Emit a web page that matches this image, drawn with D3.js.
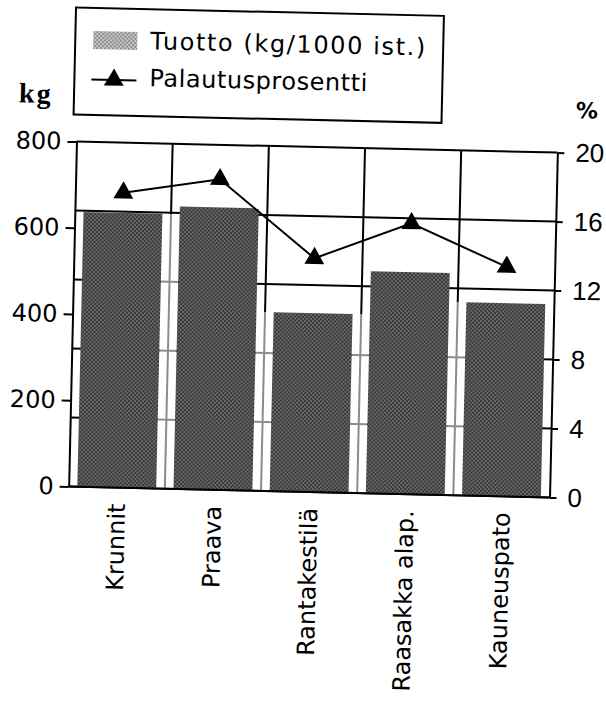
<!DOCTYPE html>
<html>
<head>
<meta charset="utf-8">
<script src="https://cdn.jsdelivr.net/npm/d3@7"></script>
<style>
  html, body { margin: 0; padding: 0; background: #fff; }
  svg { display: block; }
</style>
</head>
<body>
<svg id="chart" width="606" height="701"></svg>
<script>
// ---- data ----
const categories = ["Krunnit", "Praava", "Rantakestilä", "Raasakka alap.", "Kauneuspato"];
const yieldKg = [637, 655, 415, 515, 448];          // Tuotto (kg/1000 ist.)
const returnPct = [17.1, 18.0, 13.55, 15.7, 13.3];  // Palautusprosentti
const kgTicks = [0, 200, 400, 600, 800];
const pctTicks = [0, 4, 8, 12, 16, 20];
const legendLabels = ["Tuotto (kg/1000 ist.)", "Palautusprosentti"];
const axisTitles = ["kg", "%"];

// ---- layout ----
const plot = { left: 72.5, right: 553.5, top: 147, bottom: 492 };
const tilt = 1.3, pivot = [313, 319.5];
const sans = "'DejaVu Sans', sans-serif";

const svg = d3.select("#chart");
const defs = svg.append("defs");

function dotPattern(id, base, dot) {
  const p = defs.append("pattern").attr("id", id)
    .attr("width", 4).attr("height", 4).attr("patternUnits", "userSpaceOnUse");
  p.append("rect").attr("width", 4).attr("height", 4).attr("fill", base);
  p.append("rect").attr("width", 2).attr("height", 2).attr("fill", dot);
  p.append("rect").attr("x", 2).attr("y", 2).attr("width", 2).attr("height", 2).attr("fill", dot);
}
dotPattern("barFill", "#363636", "#6a6a6a");
dotPattern("swatchFill", "#8c8c8c", "#cacaca");

const g = svg.append("g").attr("transform", `rotate(${tilt},${pivot[0]},${pivot[1]})`);

// ---- scales ----
const x = d3.scaleBand().domain(categories)
  .range([plot.left, plot.right]).paddingInner(0.18).paddingOuter(0.09);
const yKg = d3.scaleLinear().domain([0, 800]).range([plot.bottom, plot.top]);
const yPct = d3.scaleLinear().domain([0, 20]).range([plot.bottom, plot.top]);
const bw = x.bandwidth();
const halfGap = (x.step() - bw) / 2;

// ---- grid ----
const grid = g.append("g").attr("stroke", "#000").attr("stroke-width", 2);
grid.selectAll("line.h").data(pctTicks).join("line").attr("class", "h")
  .attr("x1", plot.left).attr("x2", plot.right)
  .attr("y1", d => yPct(d)).attr("y2", d => yPct(d));
grid.selectAll("line.v").data(categories.slice(1)).join("line").attr("class", "v")
  .attr("x1", d => x(d) - halfGap).attr("x2", d => x(d) - halfGap)
  .attr("y1", plot.top).attr("y2", plot.bottom);

// lighten the grid inside the gaps between neighbouring bars
const gaps = d3.range(categories.length - 1).map(i => ({
  x0: x(categories[i]) + bw,
  x1: x(categories[i + 1]),
  top: Math.max(yKg(yieldKg[i]), yKg(yieldKg[i + 1]))
}));
g.append("g").selectAll("rect").data(gaps).join("rect")
  .attr("x", d => d.x0).attr("width", d => d.x1 - d.x0)
  .attr("y", d => d.top).attr("height", d => plot.bottom - d.top)
  .attr("fill", "#fff").attr("opacity", 0.55);

// ---- bars ----
g.append("g").selectAll("rect").data(categories).join("rect")
  .attr("x", d => x(d)).attr("width", bw)
  .attr("y", (d, i) => yKg(yieldKg[i]))
  .attr("height", (d, i) => plot.bottom - yKg(yieldKg[i]))
  .attr("fill", "url(#barFill)");

// baseline
g.append("line").attr("x1", plot.left).attr("x2", plot.right)
  .attr("y1", plot.bottom).attr("y2", plot.bottom)
  .attr("stroke", "#000").attr("stroke-width", 2);

// ---- line series ----
const cx = (d, i) => x(categories[i]) + bw / 2;
g.append("path").datum(returnPct)
  .attr("d", d3.line().x(cx).y(d => yPct(d)))
  .attr("fill", "none").attr("stroke", "#000").attr("stroke-width", 2);
const tri = d3.symbol().type(d3.symbolTriangle).size(170);
g.append("g").selectAll("path").data(returnPct).join("path")
  .attr("transform", (d, i) => `translate(${cx(d, i)},${yPct(d)})`)
  .attr("d", tri).attr("fill", "#000");

// ---- axes ----
const axL = g.append("g").attr("transform", `translate(${plot.left},0)`)
  .call(d3.axisLeft(yKg).tickValues(kgTicks).tickSize(9).tickPadding(6).tickSizeOuter(0));
const axR = g.append("g").attr("transform", `translate(${plot.right},0)`)
  .call(d3.axisRight(yPct).tickValues(pctTicks).tickSize(7).tickPadding(11).tickSizeOuter(0));
[axL, axR].forEach(a => {
  a.selectAll("path, line").attr("stroke", "#000").attr("stroke-width", 2);
});
axL.selectAll("text").attr("font-family", sans).attr("font-size", 24).attr("fill", "#000");
axR.selectAll("text").attr("font-family", "'Liberation Sans', sans-serif").attr("font-size", 26).attr("fill", "#000");

// axis titles
g.append("text").attr("x", 14).attr("y", 109)
  .attr("font-family", "'Liberation Serif', serif").attr("font-weight", "bold")
  .attr("font-size", 28).attr("letter-spacing", 2).text(axisTitles[0]);
g.append("text").attr("x", 571).attr("y", 112)
  .attr("font-family", sans).attr("font-weight", "bold")
  .attr("font-size", 22).text(axisTitles[1]);

// category labels
g.append("g").selectAll("text").data(categories).join("text")
  .attr("transform", d => `translate(${x(d) + bw / 2},${plot.bottom + 16}) rotate(-90)`)
  .attr("text-anchor", "end").attr("dy", "0.36em")
  .attr("font-family", sans).attr("font-size", 24).attr("fill", "#000")
  .text(d => d);

// ---- legend ----
const lg = g.append("g");
lg.append("rect").attr("x", 69).attr("y", 13).attr("width", 368).attr("height", 107)
  .attr("fill", "#fff").attr("stroke", "#000").attr("stroke-width", 2);
lg.append("rect").attr("x", 87).attr("y", 36).attr("width", 44).attr("height", 18)
  .attr("fill", "url(#swatchFill)");
lg.append("line").attr("x1", 86).attr("x2", 131).attr("y1", 84.5).attr("y2", 84.5)
  .attr("stroke", "#000").attr("stroke-width", 2);
lg.append("path").attr("transform", "translate(108.5,84.5)").attr("d", tri).attr("fill", "#000");
const legendWidths = [275, 218];
lg.selectAll("text").data(legendLabels).join("text")
  .attr("x", 144).attr("y", (d, i) => [53, 90][i])
  .attr("font-family", sans).attr("font-size", 24).attr("fill", "#000")
  .attr("textLength", (d, i) => legendWidths[i]).attr("lengthAdjust", "spacing")
  .text(d => d);
</script>
</body>
</html>
